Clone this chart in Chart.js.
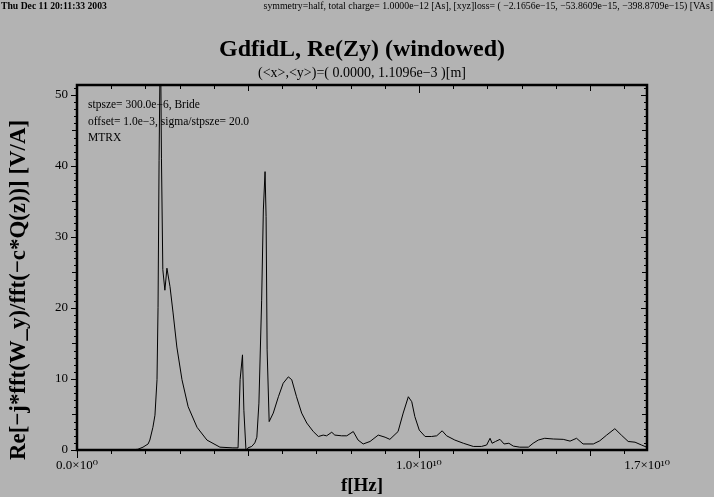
<!DOCTYPE html>
<html>
<head>
<meta charset="utf-8">
<title>GdfidL, Re(Zy) (windowed)</title>
<script src="https://cdn.jsdelivr.net/npm/chart.js@4.4.1/dist/chart.umd.min.js"></script>
<style>
  html, body { margin: 0; padding: 0; background: #b3b3b3; }
  #chart { display: block; }
</style>
</head>
<body>
<canvas id="chart" width="714" height="497"></canvas>
<script>
// frequency in units of 1e9 Hz
const freqGHz = [
    0, 1.55, 1.78, 1.93, 2.08, 2.13, 2.22, 2.28, 2.34, 2.37, 2.40, 2.44, 2.47,
    2.51, 2.57, 2.63, 2.72, 2.81, 2.92, 3.07, 3.25, 3.51, 3.80, 4.18, 4.56, 4.68,
    4.71, 4.77, 4.84, 4.88, 4.94, 4.96, 5.00, 5.11, 5.20, 5.26, 5.32, 5.40, 5.45,
    5.50, 5.53, 5.56, 5.62, 5.74, 5.89, 6.03, 6.18, 6.28, 6.42, 6.57, 6.72, 6.91,
    7.06, 7.20, 7.30, 7.45, 7.54, 7.74, 7.89, 8.08, 8.22, 8.37, 8.57, 8.81, 9.01,
    9.15, 9.39, 9.54, 9.69, 9.79, 9.88, 10.01, 10.18, 10.37, 10.52, 10.68, 10.81,
    11.05, 11.30, 11.59, 11.83, 11.98, 12.08, 12.14, 12.24, 12.37, 12.49, 12.63,
    12.76, 12.95, 13.20, 13.34, 13.49, 13.68, 13.93, 14.22, 14.42, 14.61, 14.80,
    15.10, 15.29, 15.49, 15.73, 15.92, 16.12, 16.32, 16.51, 16.66
];
// Re[-j*fft(W_y)/fft(-c*Q(z))] in V/A
const reZy = [
    0, 0, 0.1, 0.4, 0.85, 1.4, 3.2, 4.9, 9.9, 20.1, 40.8, 60, 41,
    25.4, 22.5, 25.6, 23.0, 19.3, 14.5, 9.9, 6.1, 3.2, 1.4, 0.4, 0.3, 0.3,
    0.3, 9.9, 13.4, 5.6, 0.1, -0.1, 0.3, 0.5, 1.0, 1.8, 6.6, 21.1, 33.8,
    39.2, 32.9, 14.1, 4.0, 5.2, 7.5, 9.4, 10.3, 9.9, 7.5, 5.2, 3.8, 2.6,
    1.9, 2.1, 2.0, 2.5, 2.1, 2.0, 2.0, 2.6, 1.4, 0.85, 1.2, 2.1, 1.8,
    1.5, 2.6, 5.2, 7.5, 6.8, 4.7, 2.8, 1.9, 1.9, 2.0, 2.7, 2.0,
    1.4, 0.95, 0.5, 0.5, 0.7, 1.65, 0.95, 1.2, 1.5, 0.85, 0.95,
    0.55, 0.4, 0.4, 0.95, 1.4, 1.65, 1.55, 1.5, 1.25, 1.65, 0.85,
    0.85, 1.3, 2.1, 3.0, 2.1, 1.2, 1.1, 0.7, 0.4
];

const xMax = 16.67;
const yMax = 51.4;
const xLabelValues = [0, 10, xMax];
const xLabelTexts = ['0.0\u00d710\u2070', '1.0\u00d710\u00b9\u2070', '1.7\u00d710\u00b9\u2070'];

const headerLeft = 'Thu Dec 11 20:11:33 2003';
const headerRight = 'symmetry=half, total charge= 1.0000e\u221212 [As], [xyz]loss= ( \u22122.1656e\u221215, \u221253.8609e\u221215, \u2212398.8709e\u221215) [VAs]';
const mainTitle = 'GdfidL, Re(Zy) (windowed)';
const subTitle = '(<x>,<y>)=( 0.0000, 1.1096e\u22123 )[m]';
const yTitle = 'Re[\u2212j*fft(W_y)/fft(\u2212c*Q(z))] [V/A]';
const notes = ['stpsze= 300.0e\u22126, Bride', 'offset= 1.0e\u22123, sigma/stpsze= 20.0', 'MTRX'];

const serif = '"Liberation Serif", "DejaVu Serif", serif';

// pick a font size so the text takes the wanted width
function fitFont(ctx, text, weight, width) {
    ctx.font = weight + ' 20px ' + serif;
    const size = 20 * width / ctx.measureText(text).width;
    ctx.font = weight + ' ' + size.toFixed(2) + 'px ' + serif;
}

// frame, tick marks and the loose text round the plot
const decorPlugin = {
    id: 'decor',
    afterDraw(chart) {
        const ctx = chart.ctx;
        const a = chart.chartArea;
        const xs = chart.scales.x;
        const ys = chart.scales.y;
        ctx.save();
        ctx.strokeStyle = '#000';
        ctx.fillStyle = '#000';

        // ticks
        ctx.lineWidth = 1;
        ctx.beginPath();
        for (let v = 0; v <= 16; v++) {
            const px = Math.round(xs.getPixelForValue(v)) + 0.5;
            const len = v % 10 === 0 ? 8 : (v % 5 === 0 ? 6 : 4);
            ctx.moveTo(px, a.bottom);
            ctx.lineTo(px, a.bottom + len);
            ctx.moveTo(px, a.top);
            ctx.lineTo(px, a.top + len);
        }
        for (let v = 0; v <= 51; v++) {
            const py = Math.round(ys.getPixelForValue(v)) + 0.5;
            const len = v % 10 === 0 ? 6 : (v % 5 === 0 ? 5 : 3);
            ctx.moveTo(a.left, py);
            ctx.lineTo(a.left - len, py);
            ctx.moveTo(a.right, py);
            ctx.lineTo(a.right - len, py);
        }
        ctx.stroke();

        // frame
        ctx.lineWidth = 2.5;
        ctx.strokeRect(a.left, a.top, a.right - a.left, a.bottom - a.top);

        // header line
        ctx.textBaseline = 'middle';
        ctx.textAlign = 'left';
        fitFont(ctx, headerLeft, 'bold', 106);
        ctx.fillText(headerLeft, 1, 6);
        ctx.textAlign = 'right';
        fitFont(ctx, headerRight, 'normal', 450);
        ctx.fillText(headerRight, 713, 6);

        // titles
        ctx.textAlign = 'center';
        ctx.font = 'bold 24px ' + serif;
        ctx.fillText(mainTitle, 362, 50);
        ctx.font = '14px ' + serif;
        ctx.fillText(subTitle, 362, 73);

        // y axis title
        ctx.save();
        ctx.translate(19, 290);
        ctx.rotate(-Math.PI / 2);
        fitFont(ctx, yTitle, 'bold', 340);
        ctx.fillText(yTitle, 0, 0);
        ctx.restore();

        // notes in the plot
        ctx.textAlign = 'left';
        ctx.font = '11.5px ' + serif;
        notes.forEach((t, i) => ctx.fillText(t, 88, 105 + i * 16.5));
        ctx.restore();
    }
};

const ctx = document.getElementById('chart').getContext('2d');
new Chart(ctx, {
    type: 'line',
    data: {
        datasets: [{
            data: freqGHz.map((f, i) => ({ x: f, y: reZy[i] })),
            borderColor: '#000',
            borderWidth: 1,
            pointRadius: 0,
            tension: 0,
            fill: false
        }]
    },
    options: {
        responsive: false,
        animation: false,
        devicePixelRatio: 1,
        layout: { padding: { top: 85, right: 67, left: 0, bottom: 0 } },
        plugins: {
            legend: { display: false },
            tooltip: { enabled: false }
        },
        scales: {
            x: {
                type: 'linear',
                min: 0,
                max: xMax,
                grid: { display: false, drawTicks: false },
                border: { display: false },
                afterFit: s => { s.height = 47; },
                afterBuildTicks: s => { s.ticks = xLabelValues.map(v => ({ value: v })); },
                ticks: {
                    autoSkip: false,
                    maxRotation: 0,
                    padding: 8,
                    color: '#000',
                    font: { family: serif, size: 13 },
                    callback: (v, i) => xLabelTexts[i]
                },
                title: {
                    display: true,
                    text: 'f[Hz]',
                    color: '#000',
                    font: { family: serif, size: 19, weight: 'bold' },
                    padding: 0
                }
            },
            y: {
                type: 'linear',
                min: 0,
                max: yMax,
                grid: { display: false, drawTicks: false },
                border: { display: false },
                afterFit: s => { s.width = 77; },
                ticks: {
                    stepSize: 10,
                    includeBounds: false,
                    padding: 9,
                    color: '#000',
                    font: { family: serif, size: 13 }
                }
            }
        }
    },
    plugins: [decorPlugin]
});
</script>
</body>
</html>
